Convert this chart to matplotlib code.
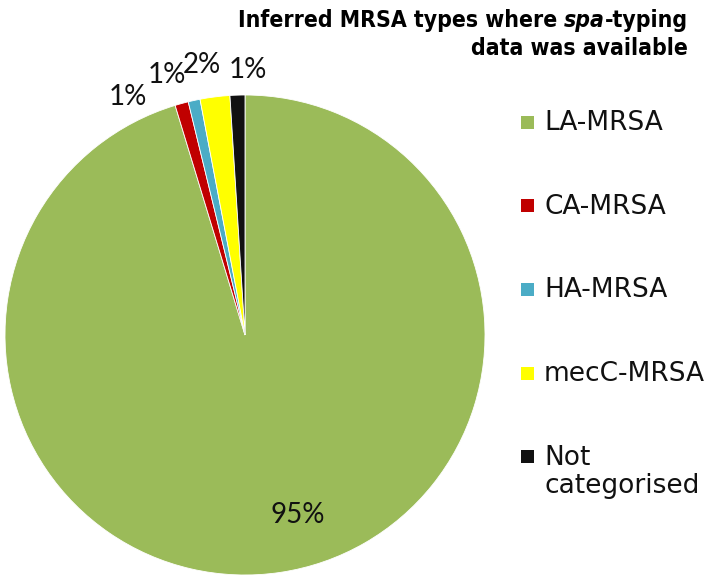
import matplotlib.pyplot as plt
from matplotlib.patches import Rectangle

# data
types = ['LA-MRSA', 'CA-MRSA', 'HA-MRSA', 'mecC-MRSA', 'Not\ncategorised']
shares = [95.3, 0.9, 0.8, 2.0, 1.0]
colours = ['#9BBB59', '#C00000', '#4BACC6', '#FFFF00', '#111111']
# where the percentage labels sit (pie data units, radius = 1)
label_xy = [(0.22, -0.75), (-0.49, 0.99), (-0.325, 1.085), (-0.18, 1.125), (0.01, 1.105)]

W, H = 709, 578
fig = plt.figure(figsize=(W / 100, H / 100), dpi=100)

# pie: centre ~ (245, 335) px, radius ~ 240 px
ax = fig.add_axes([5 / W, 3 / H, 480 / W, 480 / H])
wedges, _ = ax.pie(shares, colors=colours, startangle=90, counterclock=False,
                   wedgeprops=dict(edgecolor='white', linewidth=0.6))
ax.set_xlim(-1, 1)
ax.set_ylim(-1, 1)

total = sum(shares)
for v, (x, y) in zip(shares, label_xy):
    ax.text(x, y, f'{round(v / total * 100)}%', ha='center', va='center',
            fontsize=20, family='Lato', color='#111111')

# legend, drawn by hand so the marker sits on the first text line
y0, step, sq = 122, 83.7, 13
for i, (name, c) in enumerate(zip(types, colours)):
    yc = y0 + i * step
    fig.add_artist(Rectangle((521 / W, 1 - (yc + sq / 2) / H), sq / W, sq / H,
                             transform=fig.transFigure, facecolor=c, edgecolor='none'))
    fig.text(544 / W, 1 - (yc - 12) / H, name, ha='left', va='top', fontsize=19,
             color='#111111', linespacing=1.1)

# title, right aligned, "spa" in italic
fig.canvas.draw()
r = fig.canvas.get_renderer()
xr, y1, y2 = 688 / W, 1 - 27 / H, 1 - 55 / H
kw = dict(fontsize=16.5, fontweight='bold', fontstretch='condensed', va='baseline')
fig.text(xr, y2, 'data was available', ha='right', **kw)
t3 = fig.text(xr, y1, '-typing', ha='right', **kw)
x3 = t3.get_window_extent(r).x0 / W
t2 = fig.text(x3, y1, 'spa', ha='right', style='italic', **kw)
x2 = t2.get_window_extent(r).x0 / W
fig.text(x2, y1, 'Inferred MRSA types where ', ha='right', **kw)

plt.savefig('out.png', dpi=100)
